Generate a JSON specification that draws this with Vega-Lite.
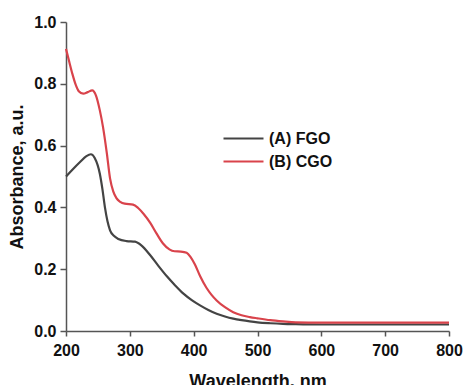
{
  "$schema": "https://vega.github.io/schema/vega-lite/v6.json",
  "width": 383,
  "height": 309,
  "padding": {"left": 66, "top": 22, "right": 14, "bottom": 54},
  "autosize": {"type": "none"},
  "background": "white",
  "config": {
    "view": {"stroke": null},
    "font": "Liberation Sans"
  },
  "data": {
    "values": [
      {"wl": 200, "abs": 0.50, "s": "(A) FGO"},
      {"wl": 210, "abs": 0.522, "s": "(A) FGO"},
      {"wl": 222, "abs": 0.547, "s": "(A) FGO"},
      {"wl": 232, "abs": 0.566, "s": "(A) FGO"},
      {"wl": 239, "abs": 0.572, "s": "(A) FGO"},
      {"wl": 245, "abs": 0.56, "s": "(A) FGO"},
      {"wl": 253, "abs": 0.509, "s": "(A) FGO"},
      {"wl": 257, "abs": 0.46, "s": "(A) FGO"},
      {"wl": 261, "abs": 0.40, "s": "(A) FGO"},
      {"wl": 265, "abs": 0.355, "s": "(A) FGO"},
      {"wl": 269, "abs": 0.326, "s": "(A) FGO"},
      {"wl": 275, "abs": 0.308, "s": "(A) FGO"},
      {"wl": 282, "abs": 0.298, "s": "(A) FGO"},
      {"wl": 295, "abs": 0.291, "s": "(A) FGO"},
      {"wl": 308, "abs": 0.289, "s": "(A) FGO"},
      {"wl": 318, "abs": 0.277, "s": "(A) FGO"},
      {"wl": 332, "abs": 0.245, "s": "(A) FGO"},
      {"wl": 345, "abs": 0.21, "s": "(A) FGO"},
      {"wl": 358, "abs": 0.177, "s": "(A) FGO"},
      {"wl": 370, "abs": 0.15, "s": "(A) FGO"},
      {"wl": 384, "abs": 0.121, "s": "(A) FGO"},
      {"wl": 397, "abs": 0.1, "s": "(A) FGO"},
      {"wl": 410, "abs": 0.083, "s": "(A) FGO"},
      {"wl": 423, "abs": 0.068, "s": "(A) FGO"},
      {"wl": 436, "abs": 0.056, "s": "(A) FGO"},
      {"wl": 449, "abs": 0.047, "s": "(A) FGO"},
      {"wl": 462, "abs": 0.04, "s": "(A) FGO"},
      {"wl": 475, "abs": 0.035, "s": "(A) FGO"},
      {"wl": 488, "abs": 0.031, "s": "(A) FGO"},
      {"wl": 500, "abs": 0.028, "s": "(A) FGO"},
      {"wl": 520, "abs": 0.025, "s": "(A) FGO"},
      {"wl": 540, "abs": 0.023, "s": "(A) FGO"},
      {"wl": 560, "abs": 0.022, "s": "(A) FGO"},
      {"wl": 600, "abs": 0.021, "s": "(A) FGO"},
      {"wl": 700, "abs": 0.021, "s": "(A) FGO"},
      {"wl": 800, "abs": 0.021, "s": "(A) FGO"},
      {"wl": 200, "abs": 0.913, "s": "(B) CGO"},
      {"wl": 205, "abs": 0.872, "s": "(B) CGO"},
      {"wl": 210, "abs": 0.832, "s": "(B) CGO"},
      {"wl": 215, "abs": 0.798, "s": "(B) CGO"},
      {"wl": 220, "abs": 0.776, "s": "(B) CGO"},
      {"wl": 227, "abs": 0.768, "s": "(B) CGO"},
      {"wl": 234, "abs": 0.773, "s": "(B) CGO"},
      {"wl": 241, "abs": 0.779, "s": "(B) CGO"},
      {"wl": 247, "abs": 0.762, "s": "(B) CGO"},
      {"wl": 253, "abs": 0.714, "s": "(B) CGO"},
      {"wl": 258, "abs": 0.66, "s": "(B) CGO"},
      {"wl": 264, "abs": 0.575, "s": "(B) CGO"},
      {"wl": 269, "abs": 0.494, "s": "(B) CGO"},
      {"wl": 274, "abs": 0.452, "s": "(B) CGO"},
      {"wl": 279, "abs": 0.43, "s": "(B) CGO"},
      {"wl": 285, "abs": 0.418, "s": "(B) CGO"},
      {"wl": 292, "abs": 0.412, "s": "(B) CGO"},
      {"wl": 305, "abs": 0.409, "s": "(B) CGO"},
      {"wl": 313, "abs": 0.398, "s": "(B) CGO"},
      {"wl": 322, "abs": 0.378, "s": "(B) CGO"},
      {"wl": 332, "abs": 0.35, "s": "(B) CGO"},
      {"wl": 342, "abs": 0.315, "s": "(B) CGO"},
      {"wl": 352, "abs": 0.283, "s": "(B) CGO"},
      {"wl": 362, "abs": 0.264, "s": "(B) CGO"},
      {"wl": 370, "abs": 0.258, "s": "(B) CGO"},
      {"wl": 380, "abs": 0.257, "s": "(B) CGO"},
      {"wl": 389, "abs": 0.253, "s": "(B) CGO"},
      {"wl": 395, "abs": 0.24, "s": "(B) CGO"},
      {"wl": 402, "abs": 0.215, "s": "(B) CGO"},
      {"wl": 410, "abs": 0.178, "s": "(B) CGO"},
      {"wl": 420, "abs": 0.14, "s": "(B) CGO"},
      {"wl": 428, "abs": 0.117, "s": "(B) CGO"},
      {"wl": 436, "abs": 0.099, "s": "(B) CGO"},
      {"wl": 449, "abs": 0.077, "s": "(B) CGO"},
      {"wl": 462, "abs": 0.061, "s": "(B) CGO"},
      {"wl": 475, "abs": 0.051, "s": "(B) CGO"},
      {"wl": 488, "abs": 0.045, "s": "(B) CGO"},
      {"wl": 500, "abs": 0.041, "s": "(B) CGO"},
      {"wl": 520, "abs": 0.035, "s": "(B) CGO"},
      {"wl": 540, "abs": 0.031, "s": "(B) CGO"},
      {"wl": 560, "abs": 0.028, "s": "(B) CGO"},
      {"wl": 600, "abs": 0.027, "s": "(B) CGO"},
      {"wl": 700, "abs": 0.027, "s": "(B) CGO"},
      {"wl": 800, "abs": 0.027, "s": "(B) CGO"}
    ]
  },
  "mark": {"type": "line", "strokeWidth": 2.2, "interpolate": "monotone"},
  "encoding": {
    "x": {
      "field": "wl", "type": "quantitative",
      "scale": {"domain": [200, 800], "nice": false, "zero": false},
      "axis": {
        "title": "Wavelength, nm", "values": [200, 300, 400, 500, 600, 700, 800],
        "grid": false, "domainColor": "#555555", "domainWidth": 1.5,
        "tickColor": "#555555", "tickWidth": 1.5, "tickSize": 5,
        "labelFont": "Liberation Sans", "labelFontSize": 16, "labelFontWeight": "bold", "labelColor": "#111111",
        "labelPadding": 6, "labelFlush": false,
        "titleFont": "Liberation Sans", "titleFontSize": 18, "titleFontWeight": "bold", "titleColor": "#111111",
        "titlePadding": 14
      }
    },
    "y": {
      "field": "abs", "type": "quantitative",
      "scale": {"domain": [0, 1], "nice": false},
      "axis": {
        "title": "Absorbance, a.u.", "values": [0, 0.2, 0.4, 0.6, 0.8, 1.0], "format": ".1f",
        "grid": false, "domainColor": "#555555", "domainWidth": 1.5,
        "tickColor": "#555555", "tickWidth": 1.5, "tickSize": 6,
        "labelFont": "Liberation Sans", "labelFontSize": 16, "labelFontWeight": "bold", "labelColor": "#111111",
        "labelPadding": 4, "labelFlush": false,
        "titleFont": "Liberation Sans", "titleFontSize": 18, "titleFontWeight": "bold", "titleColor": "#111111",
        "titlePadding": 7
      }
    },
    "color": {
      "field": "s", "type": "nominal",
      "scale": {"domain": ["(A) FGO", "(B) CGO"], "range": ["#444444", "#d9434b"]},
      "legend": {
        "title": null, "orient": "none", "legendX": 156, "legendY": 105,
        "symbolType": "stroke", "symbolSize": 1600, "symbolStrokeWidth": 2.2,
        "clipHeight": 23,
        "labelFont": "Liberation Sans", "labelFontSize": 16, "labelFontWeight": "bold", "labelColor": "#111111",
        "labelOffset": 4, "rowPadding": 0, "symbolOffset": 0
      }
    }
  }
}
